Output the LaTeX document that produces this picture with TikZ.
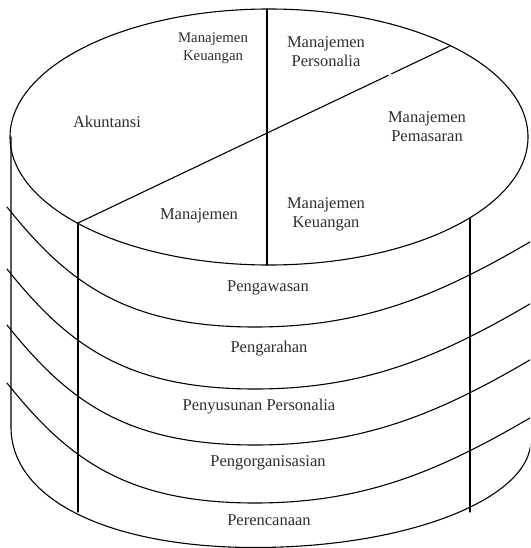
\documentclass[tikz,border=0pt]{standalone}
\usepackage{fontspec}
\setmainfont{Liberation Serif}
\usetikzlibrary{calc}

\tikzset{
  rim/.style={line width=1.1pt, black, line cap=round},
  lbl/.style={inner sep=0pt, align=center, text=black!82,
              font=\fontsize{16.5}{19.5}\selectfont},
  smalllbl/.style={lbl, font=\fontsize{14.8}{18}\selectfont},
}

\begin{document}
\begin{tikzpicture}[x=1pt, y=-1pt]
  \useasboundingbox (0,0) rectangle (530,548);
  \clip (0,0) rectangle (530,548);

  % key points of the drum
  \coordinate (top)    at (267,9);
  \coordinate (topbot) at (267,265);
  \coordinate (diagL)  at (78,223);
  \coordinate (diagR)  at (450,46);
  \coordinate (innLt)  at (78,223);
  \coordinate (innLb)  at (78,512);
  \coordinate (innRt)  at (470,218);
  \coordinate (innRb)  at (470,512);
  \coordinate (outLt)  at (11,137);
  \coordinate (outLb)  at (11,427);
  \coordinate (base)   at (255,547.5);
  \coordinate (outRb)  at (531,440);

  % top face
  \draw[rim] (269,137) ellipse [x radius=259pt, y radius=128pt];
  \draw[rim] (top) -- (topbot);
  \draw[rim] (diagL) -- ($(diagL)!0.834!(diagR)$);
  \draw[rim] ($(diagL)!0.843!(diagR)$) -- (diagR);

  % side walls
  \draw[rim] (innLt) -- (innLb);
  \draw[rim] (innRt) -- (innRb);

  % outer wall and bottom rim
  \draw[rim] (outLt) -- (outLb)
    .. controls (11,500) and (110,547.5) .. (base)
    .. controls (407,547.5) and (531,499) .. (outRb);

  % layer boundaries
  \foreach \yb in {327,389,445,503} {
    \draw[rim] (7,{\yb-120})
      .. controls (67,{\yb-45}) and (125,\yb) .. (255,\yb)
      .. controls (368,\yb) and (445,{\yb-34}) .. (545,{\yb-94});
  }

  % labels on the top face
  \node[smalllbl] (mk1) at (213,48.5) {Manajemen\\Keuangan};
  \node[lbl] (mp)  at (326,51.5)  {Manajemen\\Personalia};
  \node[lbl, anchor=base] (ak) at (107,128) {Akuntansi};
  \node[lbl] (mpm) at (427,126.5) {Manajemen\\Pemasaran};
  \node[lbl, anchor=base] (mj) at (199,219) {Manajemen};
  \node[lbl] (mk2) at (326,214.5) {Manajemen\\Keuangan};

  % labels of the layers
  \node[lbl, anchor=base] (l1) at (268,291) {Pengawasan};
  \node[lbl, anchor=base] (l2) at (269,352) {Pengarahan};
  \node[lbl, anchor=base] (l3) at (259,410) {Penyusunan Personalia};
  \node[lbl, anchor=base] (l4) at (268,466) {Pengorganisasian};
  \node[lbl, anchor=base] (l5) at (269,525) {Perencanaan};
\end{tikzpicture}
\end{document}
